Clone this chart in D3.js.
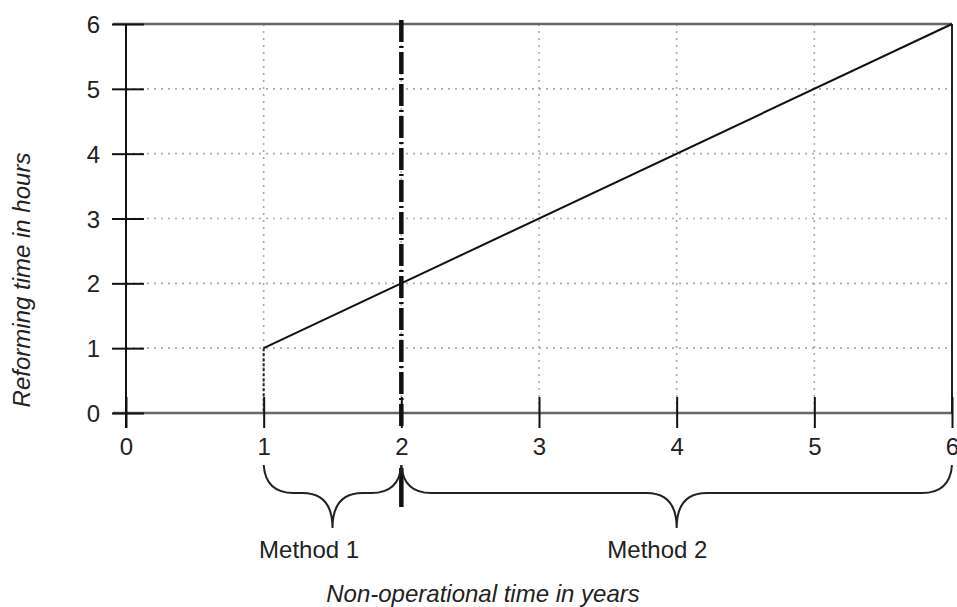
<!DOCTYPE html>
<html>
<head>
  <meta charset="utf-8">
  <title>Reforming time</title>
  <script src="https://d3js.org/d3.v7.min.js"></script>
  <style>
    body { margin: 0; background: #fff; }
    text { font-family: "Liberation Sans", Arial, sans-serif; fill: #222; }
  </style>
</head>
<body>
  <script>
    // data
    var xTicks = [0, 1, 2, 3, 4, 5, 6];
    var yTicks = [0, 1, 2, 3, 4, 5, 6];
    var gridX = [1, 2, 3, 4, 5];
    var gridY = [1, 2, 3, 4, 5];
    var lineYears = [1, 6];   // non-operational time
    var lineHours = [1, 6];   // reforming time
    var splitYear = 2;
    var methodNames = ["Method 1", "Method 2"];
    var methodFrom = [1, 2];
    var methodTo = [2, 6];
    var methodTip = [1.5, 4];
    var methodLabelAt = [1.33, 3.86];
    var xTitle = "Non-operational time in years";
    var yTitle = "Reforming time in hours";

    var width = 957, height = 607;
    var plotLeft = 126, plotRight = 952, plotTop = 24, plotBottom = 413;
    var fs = 24;

    var svg = d3.select("body").append("svg").attr("width", width).attr("height", height);

    var x = d3.scaleLinear().domain([0, 6]).range([plotLeft, plotRight]);
    var y = d3.scaleLinear().domain([0, 6]).range([plotBottom, plotTop]);

    // grid (dotted)
    svg.append("g").selectAll("line").data(gridX).enter().append("line")
      .attr("x1", d => x(d)).attr("x2", d => x(d))
      .attr("y1", y(6)).attr("y2", y(0))
      .attr("stroke", "#aaa").attr("stroke-width", 1.6).attr("stroke-dasharray", "2,5");
    svg.append("g").selectAll("line").data(gridY).enter().append("line")
      .attr("x1", x(0)).attr("x2", x(6))
      .attr("y1", d => y(d)).attr("y2", d => y(d))
      .attr("stroke", "#aaa").attr("stroke-width", 1.6).attr("stroke-dasharray", "2,5");

    // frame: grey top / bottom, black right
    svg.append("line").attr("x1", x(0) - 13).attr("x2", x(6)).attr("y1", y(6)).attr("y2", y(6))
      .attr("stroke", "#666").attr("stroke-width", 2.5);
    svg.append("line").attr("x1", x(0) - 13).attr("x2", x(6)).attr("y1", y(0)).attr("y2", y(0))
      .attr("stroke", "#666").attr("stroke-width", 2.5);
    svg.append("line").attr("x1", x(6)).attr("x2", x(6)).attr("y1", y(6)).attr("y2", y(0))
      .attr("stroke", "#222").attr("stroke-width", 2);

    // x axis
    var xAxis = svg.append("g")
      .attr("transform", "translate(0," + y(0) + ")")
      .call(d3.axisBottom(x).tickValues(xTicks).tickSize(15).tickFormat(d3.format("d")));
    xAxis.select(".domain").remove();
    xAxis.selectAll(".tick line").attr("y1", -16).attr("stroke", "#111").attr("stroke-width", 2);
    xAxis.selectAll(".tick text").attr("y", 42).attr("dy", null)
      .attr("font-size", fs).attr("font-family", null).attr("fill", "#222");

    // y axis
    var yAxis = svg.append("g")
      .attr("transform", "translate(" + x(0) + ",0)")
      .call(d3.axisLeft(y).tickValues(yTicks).tickSize(14).tickFormat(d3.format("d")));
    yAxis.select(".domain").remove();
    yAxis.selectAll(".tick line").attr("x1", 18).attr("stroke", "#111").attr("stroke-width", 2);
    yAxis.selectAll(".tick text").attr("x", -26).attr("dy", "0.36em")
      .attr("font-size", fs).attr("font-family", null).attr("fill", "#222");
    svg.append("line").attr("x1", x(0)).attr("x2", x(0)).attr("y1", y(6)).attr("y2", y(0) + 15)
      .attr("stroke", "#111").attr("stroke-width", 2);

    // dotted drop from line start to axis
    svg.append("line")
      .attr("x1", x(lineYears[0])).attr("x2", x(lineYears[0]))
      .attr("y1", y(lineHours[0])).attr("y2", y(0))
      .attr("stroke", "#222").attr("stroke-width", 2).attr("stroke-dasharray", "3,2");

    // reforming time line
    var pts = lineYears.map((d, i) => [d, lineHours[i]]);
    svg.append("path").datum(pts)
      .attr("d", d3.line().x(d => x(d[0])).y(d => y(d[1])))
      .attr("fill", "none").attr("stroke", "#111").attr("stroke-width", 2);

    // thick dash-dot split line (broken around the tick label)
    var splitSegs = [[y(6) - 4, y(0) + 15, "22,4,2,4"], [468, 507, "40,0"]];
    svg.append("g").selectAll("line").data(splitSegs).enter().append("line")
      .attr("x1", x(splitYear)).attr("x2", x(splitYear))
      .attr("y1", d => d[0]).attr("y2", d => d[1])
      .attr("stroke", "#111").attr("stroke-width", 4.5).attr("stroke-dasharray", d => d[2]);

    // braces
    var bTop = 465, bMid = 493, bTip = 528, r = 30;
    function brace(x0, x1, xt) {
      var p = d3.path();
      var r0 = Math.min(r, (xt - x0) / 2), r1 = Math.min(r, (x1 - xt) / 2);
      p.moveTo(x0, bTop);
      p.quadraticCurveTo(x0 + 2, bMid, x0 + r0, bMid);
      p.lineTo(xt - r0, bMid);
      p.quadraticCurveTo(xt, bMid, xt, bTip);
      p.quadraticCurveTo(xt, bMid, xt + r1, bMid);
      p.lineTo(x1 - r1, bMid);
      p.quadraticCurveTo(x1 - 2, bMid, x1, bTop);
      return p.toString();
    }
    svg.append("g").selectAll("path").data(methodNames).enter().append("path")
      .attr("d", (d, i) => brace(x(methodFrom[i]), x(methodTo[i]), x(methodTip[i])))
      .attr("fill", "none").attr("stroke", "#222").attr("stroke-width", 2);
    svg.append("g").selectAll("text").data(methodNames).enter().append("text")
      .attr("x", (d, i) => x(methodLabelAt[i])).attr("y", 558)
      .attr("text-anchor", "middle").attr("font-size", fs)
      .text(d => d);

    // axis titles
    svg.append("text").attr("x", 483).attr("y", 602)
      .attr("text-anchor", "middle").attr("font-size", fs).attr("font-style", "italic")
      .text(xTitle);
    svg.append("text").attr("transform", "translate(30,280) rotate(-90)")
      .attr("text-anchor", "middle").attr("font-size", fs).attr("font-style", "italic")
      .text(yTitle);
  </script>
</body>
</html>
